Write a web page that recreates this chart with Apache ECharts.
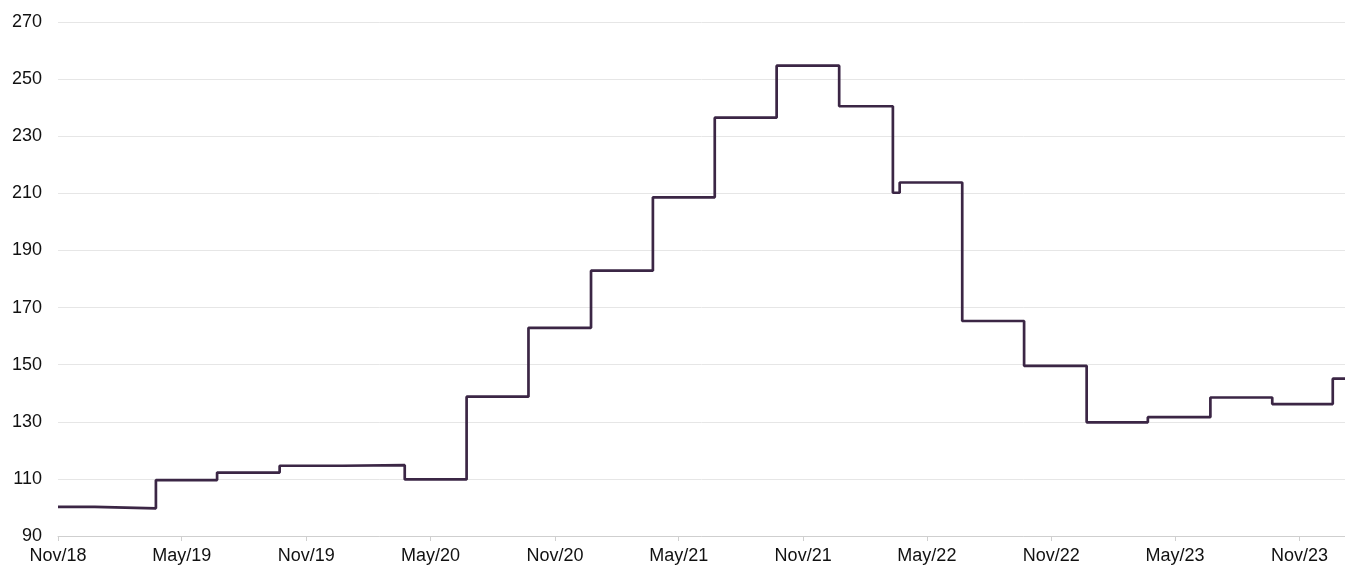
<!DOCTYPE html>
<html>
<head>
<meta charset="utf-8">
<script src="https://cdn.jsdelivr.net/npm/echarts@6/dist/echarts.min.js"></script>
<style>
html,body{margin:0;padding:0;background:#fff;}
#chart{width:1345px;height:565px;}
</style>
</head>
<body>
<div id="chart"></div>
<script>
// Step dates and values (value holds from date until next date)
const dates = [
  '2018-11-30','2019-01-23','2019-04-23','2019-07-22','2019-10-22',
  '2020-01-23','2020-04-23','2020-07-23','2020-10-22','2021-01-22',
  '2021-04-23','2021-07-23','2021-10-22','2022-01-22','2022-04-11',
  '2022-04-21','2022-07-22','2022-10-21','2023-01-21','2023-04-21',
  '2023-07-22','2023-10-21','2024-01-18','2024-02-05'
];
const values = [
  100.2, 99.7, 109.6, 112.2, 114.6,
  114.8, 109.8, 138.8, 162.9, 182.9,
  208.6, 236.5, 254.7, 240.5, 210.2,
  213.8, 165.3, 149.6, 129.8, 131.6,
  138.5, 136.2, 145.1, 145.1
];
const tickDates = [
  '2018-11-30','2019-05-31','2019-11-30','2020-05-31','2020-11-30',
  '2021-05-31','2021-11-30','2022-05-31','2022-11-30','2023-05-31','2023-11-30'
];
const monthNames = ['Jan','Feb','Mar','Apr','May','Jun','Jul','Aug','Sep','Oct','Nov','Dec'];
const xMin = '2018-11-30';
const xMax = '2024-02-05';

const toTs = s => { const p = s.split('-').map(Number); return Date.UTC(p[0], p[1]-1, p[2]); };
const seriesData = dates.map((d, i) => [toTs(d), values[i]]);
const ticks = tickDates.map(toTs);

const chart = echarts.init(document.getElementById('chart'), null, {renderer: 'canvas'});
chart.setOption({
  animation: false,
  backgroundColor: '#ffffff',
  grid: {left: 58, right: 0, top: 22, bottom: 29, containLabel: false},
  xAxis: {
    type: 'value',
    min: toTs(xMin),
    max: toTs(xMax),
    scale: true,
    axisLine: {show: true, lineStyle: {color: '#cfcfcf', width: 1}},
    axisTick: {show: true, customValues: ticks, length: 5, lineStyle: {color: '#cfcfcf'}},
    axisLabel: {
      customValues: ticks,
      margin: 11,
      fontFamily: 'Liberation Sans, Arial, sans-serif',
      fontSize: 18,
      color: '#111111',
      formatter: function (v) {
        const d = new Date(v);
        return monthNames[d.getUTCMonth()] + '/' + String(d.getUTCFullYear()).slice(2);
      }
    },
    splitLine: {show: false}
  },
  yAxis: {
    type: 'value',
    min: 90,
    max: 270,
    interval: 20,
    axisLine: {show: false},
    axisTick: {show: false},
    axisLabel: {
      margin: 16,
      fontFamily: 'Liberation Sans, Arial, sans-serif',
      fontSize: 18,
      color: '#111111'
    },
    splitLine: {show: true, lineStyle: {color: '#e6e6e6', width: 1}}
  },
  series: [{
    type: 'line',
    step: 'end',
    data: seriesData,
    showSymbol: false,
    symbol: 'none',
    lineStyle: {color: '#3b2645', width: 2.7},
    itemStyle: {color: '#3b2645'}
  }]
});
</script>
</body>
</html>
